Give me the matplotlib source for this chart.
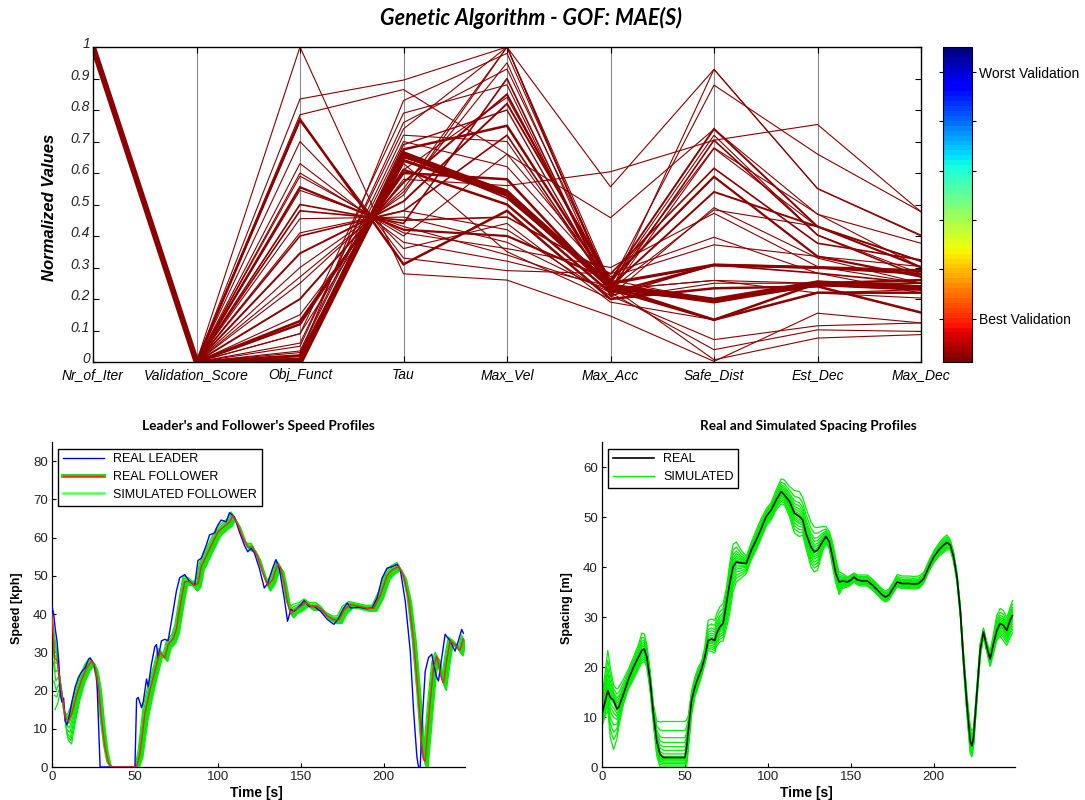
import numpy as np
import matplotlib
matplotlib.use("Agg")
import matplotlib.pyplot as plt
from matplotlib.colors import ListedColormap, Normalize
from matplotlib.cm import ScalarMappable
from matplotlib.lines import Line2D
from matplotlib.legend_handler import HandlerTuple
from matplotlib.transforms import ScaledTranslation

plt.rcParams['font.family'] = ['Liberation Sans', 'DejaVu Sans']

# ---------------- GA parameter sets (normalized) ----------------
param_names = ['Nr_of_Iter', 'Validation_Score', 'Obj_Funct', 'Tau', 'Max_Vel',
               'Max_Acc', 'Safe_Dist', 'Est_Dec', 'Max_Dec']

# iter, validation, obj, tau, vel, acc, safe, est, dec
param_sets = [
    [1.0, 0.0, 0.00, 0.660, 0.535, 0.240, 0.195, 0.250, 0.235],
    [1.0, 0.0, 0.00, 0.650, 0.545, 0.235, 0.195, 0.255, 0.240],
    [1.0, 0.0, 0.01, 0.655, 0.520, 0.245, 0.200, 0.245, 0.230],
    [1.0, 0.0, 0.02, 0.640, 0.530, 0.250, 0.308, 0.300, 0.290],
    [1.0, 0.0, 0.00, 0.690, 0.800, 0.225, 0.195, 0.250, 0.250],
    [1.0, 0.0, 0.01, 0.675, 0.750, 0.240, 0.134, 0.250, 0.260],
    [1.0, 0.0, 0.13, 0.600, 0.580, 0.230, 0.134, 0.220, 0.220],
    [1.0, 0.0, 0.12, 0.610, 0.500, 0.220, 0.308, 0.300, 0.280],
    [1.0, 0.0, 0.20, 0.570, 0.850, 0.240, 0.540, 0.430, 0.320],
    [1.0, 0.0, 0.09, 0.610, 0.840, 0.250, 0.680, 0.470, 0.300],
    [1.0, 0.0, 0.27, 0.540, 0.950, 0.220, 0.929, 0.550, 0.400],
    [1.0, 0.0, 0.30, 0.530, 1.000, 0.250, 0.879, 0.660, 0.477],
    [1.0, 0.0, 0.345, 0.510, 0.820, 0.260, 0.740, 0.430, 0.300],
    [1.0, 0.0, 0.40, 0.480, 0.720, 0.230, 0.704, 0.403, 0.270],
    [1.0, 0.0, 0.41, 0.480, 0.420, 0.210, 0.071, 0.115, 0.124],
    [1.0, 0.0, 0.455, 0.460, 0.380, 0.220, 0.039, 0.102, 0.097],
    [1.0, 0.0, 0.48, 0.450, 0.460, 0.280, 0.615, 0.377, 0.324],
    [1.0, 0.0, 0.545, 0.430, 0.340, 0.230, 0.259, 0.219, 0.203],
    [1.0, 0.0, 0.555, 0.420, 0.400, 0.260, 0.588, 0.335, 0.271],
    [1.0, 0.0, 0.59, 0.410, 0.360, 0.300, 0.472, 0.303, 0.250],
    [1.0, 0.0, 0.63, 0.380, 0.320, 0.240, 0.007, 0.076, 0.087],
    [1.0, 0.0, 0.765, 0.330, 0.290, 0.280, 0.396, 0.282, 0.219],
    [1.0, 0.0, 0.77, 0.310, 0.480, 0.200, 0.234, 0.240, 0.157],
    [1.0, 0.0, 0.785, 0.865, 0.660, 0.270, 0.372, 0.335, 0.303],
    [1.0, 0.0, 0.835, 0.895, 1.000, 0.230, 0.483, 0.430, 0.303],
    [1.0, 0.0, 1.00, 0.280, 0.260, 0.146, 0.002, 0.155, 0.124],
    [1.0, 0.0, 0.02, 0.830, 0.980, 0.240, 0.190, 0.250, 0.234],
    [1.0, 0.0, 0.09, 0.790, 0.880, 0.210, 0.490, 0.330, 0.250],
    [1.0, 0.0, 0.05, 0.760, 0.930, 0.250, 0.720, 0.403, 0.280],
    [1.0, 0.0, 0.01, 0.630, 0.350, 0.200, 0.250, 0.250, 0.240],
    [1.0, 0.0, 0.15, 0.580, 0.560, 0.604, 0.704, 0.754, 0.477],
    [1.0, 0.0, 0.25, 0.550, 1.000, 0.556, 0.929, 0.551, 0.403],
    [1.0, 0.0, 0.60, 0.400, 0.660, 0.458, 0.739, 0.469, 0.377],
    [1.0, 0.0, 0.50, 0.440, 0.900, 0.210, 0.308, 0.282, 0.250],
    [1.0, 0.0, 0.70, 0.360, 0.440, 0.190, 0.134, 0.219, 0.230],
    [1.0, 0.0, 0.035, 0.720, 0.700, 0.230, 0.259, 0.250, 0.260],
    [1.0, 0.0, 0.03, 0.700, 0.620, 0.260, 0.195, 0.240, 0.250],
    [1.0, 0.0, 0.06, 0.740, 1.000, 0.220, 0.678, 0.430, 0.320],
]
set_widths = [4.2, 1.4, 1.2, 2.2, 1.0, 1.8, 1.8, 1.8, 1.4, 0.8, 0.8, 0.8, 1.4,
              1.2, 0.8, 0.8, 1.2, 0.8, 1.6, 0.8, 0.8, 0.8, 1.8, 0.8, 0.8, 0.8,
              0.8, 0.8, 0.8, 0.8, 0.8, 0.8, 0.8, 1.2, 0.8, 0.8, 0.8, 0.8]

cbar_ticks = [0.137, 0.295, 0.451, 0.606, 0.765, 0.92]
cbar_labels = ['Best Validation', '', '', '', '', 'Worst Validation']

# ---------------- speed profiles ----------------
# (time [s], speed [kph])
leader_pts = [
    (0, 42), (1, 40), (2, 36), (3, 33), (4, 28), (5, 19), (6, 17), (7, 18),
    (8, 12), (9, 11), (10, 12.5), (12, 17), (14, 21), (16, 23.5), (18, 25),
    (20, 26), (22, 28.2), (23, 28.5), (25, 27), (27, 23.5), (28, 12), (29, 0),
    (50, 0), (51, 17.8), (52, 18.2), (54, 15.5), (55, 17), (57, 23), (58, 21),
    (60, 27), (62, 31.5), (63, 32), (64, 28.5), (66, 33), (68, 33.4), (70, 33),
    (73, 40.7), (75, 46), (77, 49.5), (80, 50.3), (83, 48.5), (86, 47.5),
    (88, 54), (90, 54.6), (93, 58), (95, 60.7), (98, 61.2), (100, 63.3),
    (102, 64.6), (105, 64.1), (107, 66.5), (110, 65.4), (113, 61.5),
    (116, 58), (118, 56.3), (120, 57.2), (122, 56), (125, 52), (128, 46.8),
    (130, 48), (133, 52), (135, 54.2), (137, 52), (140, 44.2), (142, 38.1),
    (144, 41.2), (146, 40.7), (150, 42.5), (152, 43.5), (155, 42), (158, 42),
    (162, 40.7), (166, 38.6), (170, 37.3), (173, 39), (176, 41.6),
    (178, 42.9), (180, 41.6), (185, 41.8), (190, 41.4), (193, 41.6),
    (196, 44.2), (199, 49.4), (202, 52), (205, 52.4), (208, 53), (210, 51.6),
    (213, 43.3), (216, 30.3), (218, 14.7), (220, 2.6), (221, 0), (222, 0),
    (223, 10.4), (225, 25), (227, 28.6), (229, 29.5), (230, 26.9),
    (232, 23.4), (233, 22.5), (235, 28.6), (237, 34.7), (240, 33),
    (243, 30.3), (245, 33), (247, 36), (248, 35),
]

# (time [s], speed [kph], band above, band below) of the simulated runs
follower_pts = [
    (0, 40, 3, 25), (1.5, 28.5, 9, 12), (3, 28, 5, 9), (5, 22, 4, 6),
    (8, 13, 2, 6), (10, 12, 1.5, 6), (12, 14, 1.5, 3), (15, 19, 1, 1.5),
    (18, 23, 1, 1), (21, 26, 1, 1), (24, 27.8, 0.8, 0.8), (26, 26, 1, 1),
    (28, 21, 1, 1), (30, 12, 1, 1), (32, 5, 1, 1), (34, 1, 0.5, 1),
    (36, 0, 0, 0), (51, 0, 0, 0), (53, 3.5, 1, 1), (56, 14, 2, 2),
    (59, 20, 1.5, 1.5), (62, 25, 1, 1), (65, 30, 1, 1), (68, 28.6, 1, 1),
    (70, 32, 1, 1), (73, 33.5, 1, 1), (75, 36, 1, 1), (78, 44, 1, 1),
    (80, 48.5, 1.5, 1), (83, 48.5, 1, 1), (86, 47.5, 1, 1.5), (88, 48, 1, 1),
    (90, 52.5, 1, 1), (95, 57, 1, 1), (100, 61.5, 1, 1), (104, 63, 1, 1),
    (107, 64, 1, 1), (109, 65.7, 1, 1), (112, 63.5, 1, 1), (115, 60, 1, 1),
    (118, 57.5, 1, 1), (121, 57.5, 1, 1), (124, 55, 1, 1), (127, 51, 1, 1),
    (130, 47.5, 1, 1.5), (133, 49, 1, 1), (136, 53, 1.2, 1), (138, 52, 1, 1),
    (140, 48, 1, 1), (142, 43, 1, 1), (144, 40, 1.5, 1), (146, 41, 1.5, 1),
    (150, 42, 1, 1), (153, 43, 1, 1), (156, 42, 1, 1), (160, 42, 1, 1),
    (163, 41, 1, 1), (166, 39.5, 1, 1), (170, 38.5, 1, 1), (173, 38.5, 1, 1),
    (176, 41, 1, 1), (180, 42.5, 0.8, 0.8), (185, 42, 0.8, 0.8),
    (190, 41.5, 0.8, 0.8), (194, 41.5, 0.8, 0.8), (198, 45, 1, 1),
    (202, 50, 1, 1), (205, 51.5, 1, 1), (209, 52.5, 1, 1), (212, 50, 1, 1),
    (215, 44, 1, 1), (218, 33, 1, 1), (221, 18, 1.5, 1.5), (223, 6, 2, 2),
    (224, 2, 1.5, 2), (225, 1.5, 2, 1.5), (226, 7, 2, 2), (228, 17, 2, 2),
    (230, 26, 1.5, 1.5), (232, 29, 1, 1), (235, 23, 1.5, 1.5),
    (236, 22, 1.5, 2), (238, 28, 1.5, 1.5), (240, 33, 1, 1), (243, 32, 1, 1),
    (246, 30.5, 1, 1.5), (248, 33.5, 1, 1),
]
# each simulated run: time lag [s] and position inside the band
speed_run_lag = [-1.0, -0.6, -0.3, 0.0, 0.3, 0.5, 0.8, 1.1, 1.4, 1.8]
speed_run_pos = [1.0, 0.6, 0.3, 0.1, -0.1, -0.3, -0.5, -0.7, -0.85, -1.0]

# ---------------- spacing profiles ----------------
# (time [s], real spacing [m], band above, band below)
spacing_pts = [
    (0, 10.6, 3, 2.5), (2, 13.3, 6, 3), (3.5, 15.3, 8, 4), (5, 13.9, 6, 8),
    (7, 13.3, 3, 9.8), (9, 11.6, 4, 6), (10, 11.9, 4, 4), (13, 14.6, 3, 2),
    (16, 17.6, 2, 2), (19, 20, 2, 2.5), (22, 22, 2.5, 2.5), (24, 23.3, 3.5, 2.5),
    (25.5, 23.6, 3, 2.5), (27, 22, 2.5, 2), (29, 17.3, 2, 2), (31, 10.6, 2, 2),
    (33, 5.2, 4, 3), (35, 2.5, 6.5, 2.5), (37, 1.9, 7.2, 1.9),
    (50, 1.9, 7.2, 1.9), (51, 3.9, 5.5, 3.9), (52, 7.2, 3, 4),
    (54, 13.3, 2, 3), (56, 16, 2, 2), (58, 17.9, 2, 2), (60, 19.6, 1.5, 1.5),
    (62, 22, 2, 1.5), (64, 25.3, 4, 2), (66, 25.6, 4, 2.5), (68, 25.3, 4, 2.5),
    (69, 26.6, 4, 2.5), (71, 28, 4, 3), (73, 28.7, 4, 3.5), (75, 32.7, 3, 5),
    (77, 36.7, 4, 6), (79, 40, 4.5, 5), (81, 41, 4, 4), (84, 40.8, 2.5, 3),
    (87, 40.7, 1.5, 2), (90, 43.4, 1.5, 2), (93, 45.4, 2, 2), (96, 47.7, 2, 2),
    (99, 50.1, 1.5, 2), (102, 51.4, 1.5, 2), (105, 53.4, 2, 2),
    (108, 55.1, 2.5, 2.5), (110, 54.4, 3, 2), (113, 53.1, 3, 3),
    (116, 50.8, 4.5, 4), (119, 50.1, 5, 4), (121, 49.4, 4.5, 3),
    (123, 46.7, 5, 3), (126, 44, 5, 4), (128, 43, 5, 4), (130, 43.4, 4.5, 4),
    (133, 45.1, 3, 2), (135, 46.1, 2, 1.5), (137, 45.1, 2, 1.5),
    (139, 42, 3, 2), (141, 38.7, 3, 2), (143, 37, 2, 2.5), (145, 37.2, 1.5, 1.5),
    (148, 37, 1, 1), (150, 37.4, 1, 1), (152, 38, 0.8, 1), (154, 37.4, 1, 1),
    (157, 37.2, 1.2, 1), (160, 37.2, 1.2, 1), (163, 36.4, 1.2, 1),
    (166, 35.4, 1.2, 1), (169, 34.4, 1.2, 1), (171, 34, 1.2, 1),
    (173, 34.4, 1.2, 1), (176, 36, 1.2, 1), (178, 37, 1.5, 1),
    (181, 36.7, 1.5, 1), (185, 36.7, 1.5, 1), (188, 36.6, 1.5, 1),
    (191, 36.7, 1.5, 1), (194, 37.7, 1.2, 1), (197, 40, 1.2, 1),
    (200, 42, 1.2, 1.2), (203, 43.4, 1.3, 1.3), (206, 44.4, 1.5, 1.5),
    (208, 44.9, 1.5, 1.5), (210, 44.4, 1, 1), (212, 42, 1, 1), (214, 38, 1, 1),
    (216, 31.3, 1, 1), (218, 21.3, 1.5, 1.5), (220, 12.6, 2, 2),
    (222, 5.2, 3, 2.5), (223, 4.2, 3, 2.2), (224, 5.9, 2, 2),
    (226, 14.6, 1.5, 1.5), (228, 23.3, 1.5, 1.5), (230, 27, 0.8, 1),
    (232, 24, 1, 1), (234, 21.6, 1.5, 1.5), (236, 24.6, 2, 2),
    (238, 27.3, 3, 2), (240, 28.7, 3, 2.5), (242, 28.3, 3, 3),
    (244, 27.3, 2.5, 3), (246, 29.3, 2.5, 3.5), (247.5, 30.3, 3, 3.5),
]
spacing_run_pos = [1.0, 0.75, 0.55, 0.42, 0.3, 0.2, 0.1, 0.03,
                   -0.05, -0.15, -0.25, -0.35, -0.5, -0.65, -0.8, -1.0]

W, H = 1085, 800
fig = plt.figure(figsize=(W / 100, H / 100), dpi=100)

def frac(x0, y0, x1, y1):
    return [x0 / W, 1 - y1 / H, (x1 - x0) / W, (y1 - y0) / H]

line_red = '#8c0000'

# ---------------- parallel coordinates ----------------
ax = fig.add_axes(frac(93, 47, 921, 362))
xs = np.arange(1, len(param_names) + 1)
for k in range(2, len(param_names)):
    ax.axvline(k, color='#8a8a8a', lw=0.8, zorder=1)
for row, lw in sorted(zip(param_sets, set_widths), key=lambda p: p[1]):
    ax.plot(xs, row, color=line_red, lw=lw, solid_joinstyle='miter', zorder=2)
ax.set_xlim(1, len(param_names))
ax.set_ylim(0, 1)
ax.set_xticks(xs)
ax.set_xticklabels(param_names, style='italic', fontsize=10)
yt = np.round(np.arange(0, 1.01, 0.1), 1)
ax.set_yticks(yt)
ax.set_yticklabels(['0' if v == 0 else ('1' if v == 1 else f'{v:g}') for v in yt],
                   style='italic', fontsize=10, color='#222222')
ax.tick_params(direction='in', top=True, right=True, length=4, width=0.8, pad=2)
ax.tick_params(axis='x', pad=4)
# value labels sit slightly above their ticks
lift = ScaledTranslation(0, 3 / 72, fig.dpi_scale_trans)
for lbl in ax.get_yticklabels():
    lbl.set_transform(lbl.get_transform() + lift)
for s in ax.spines.values():
    s.set_linewidth(1.0)
ax.set_ylabel('Normalized Values', fontsize=12, fontweight='bold', style='italic')
ax.yaxis.set_label_coords(-0.043, 0.49)
fig.text(531 / W, 1 - 18 / H, 'Genetic Algorithm - GOF: MAE(S)', ha='center', va='center',
         fontsize=15.5, fontweight='bold', style='italic', family=['Lato', 'DejaVu Sans'])

# colour bar
cax = fig.add_axes(frac(943, 47, 972, 362))
jet64 = plt.get_cmap('jet')(np.linspace(0, 1, 64))[::-1]
cb = fig.colorbar(ScalarMappable(norm=Normalize(0, 1), cmap=ListedColormap(jet64)), cax=cax)
cb.set_ticks(cbar_ticks)
cb.set_ticklabels(cbar_labels)
cb.ax.tick_params(left=True, right=True, direction='out', length=3, width=0.8,
                  labelsize=10, pad=2)
cb.outline.set_linewidth(0.8)

# ---------------- speed profiles ----------------
lt, lv = np.array(leader_pts, dtype=float).T
ft, fv, fup, fdn = np.array(follower_pts, dtype=float).T

ax1 = fig.add_axes(frac(52, 442, 465, 767))
sim_green = '#00ee00'
for lag, p in zip(speed_run_lag, speed_run_pos):
    sv = fv + np.where(p > 0, p * fup, p * fdn)
    ax1.plot(ft + lag, np.clip(sv, 0, None), color=sim_green, lw=0.9, zorder=2)
ax1.plot(lt, lv, color='#0000ff', lw=1.0, zorder=3)
ax1.plot(ft, fv, color='#ff2020', lw=1.0, zorder=4)
ax1.set_xlim(0, 249)
ax1.set_ylim(0, 85)
ax1.set_xticks(np.arange(0, 201, 50))
ax1.set_yticks(np.arange(0, 81, 10))
h_lead = Line2D([], [], color='#0000ff', lw=1.0)
h_foll = (Line2D([], [], color='#22dd22', lw=3.0), Line2D([], [], color='#ff2020', lw=1.0))
h_sim = Line2D([], [], color='#55ff55', lw=1.8)
ax1.legend([h_lead, h_foll, h_sim], ['REAL LEADER', 'REAL FOLLOWER', 'SIMULATED FOLLOWER'],
           handler_map={tuple: HandlerTuple(ndivide=1, pad=0)},
           loc='upper left', bbox_to_anchor=(0.0145, 0.98), borderaxespad=0,
           fontsize=9, handlelength=3.3, handletextpad=0.7, labelspacing=0.45,
           borderpad=0.4, fancybox=False, edgecolor='black', framealpha=1)
ax1.set_title("Leader's and Follower's Speed Profiles", fontsize=9.8, fontweight='bold',
              family=['Lato', 'DejaVu Sans'], y=1.037, pad=0)
ax1.set_ylabel('Speed [kph]', fontsize=9, fontweight='bold')
ax1.set_xlabel('Time [s]', fontsize=10, fontweight='bold')
ax1.yaxis.set_label_coords(-0.070, 0.49)
ax1.xaxis.set_label_coords(0.496, -0.058)

# ---------------- spacing profiles ----------------
gt, gv, gup, gdn = np.array(spacing_pts, dtype=float).T

ax2 = fig.add_axes(frac(602, 442, 1015, 767))
for p in spacing_run_pos:
    sv = gv + np.where(p > 0, p * gup, p * gdn)
    ax2.plot(gt, np.clip(sv, 0, None), color=sim_green, lw=0.9, zorder=2)
ax2.plot(gt, gv, color='black', lw=1.1, zorder=3)
ax2.set_xlim(0, 249)
ax2.set_ylim(0, 65)
ax2.set_xticks(np.arange(0, 201, 50))
ax2.set_yticks(np.arange(0, 61, 10))
ax2.legend([Line2D([], [], color='black', lw=1.2), Line2D([], [], color=sim_green, lw=1.0)],
           ['REAL', 'SIMULATED'], loc='upper left', bbox_to_anchor=(0.0145, 0.98),
           borderaxespad=0, fontsize=9, handlelength=3.3, handletextpad=0.7,
           labelspacing=0.45, borderpad=0.4, fancybox=False, edgecolor='black',
           framealpha=1)
ax2.set_title('Real and Simulated Spacing Profiles', fontsize=9.8, fontweight='bold',
              family=['Lato', 'DejaVu Sans'], y=1.037, pad=0)
ax2.set_ylabel('Spacing [m]', fontsize=9, fontweight='bold')
ax2.set_xlabel('Time [s]', fontsize=10, fontweight='bold')
ax2.yaxis.set_label_coords(-0.070, 0.49)
ax2.xaxis.set_label_coords(0.496, -0.058)

for a in (ax1, ax2):
    a.spines['top'].set_visible(False)
    a.spines['right'].set_visible(False)
    for s in ('left', 'bottom'):
        a.spines[s].set_linewidth(0.9)
    a.tick_params(direction='in', length=3, width=0.8, labelsize=9.5, pad=3,
                  labelcolor='#222222')

fig.savefig('out.png', dpi=100)
